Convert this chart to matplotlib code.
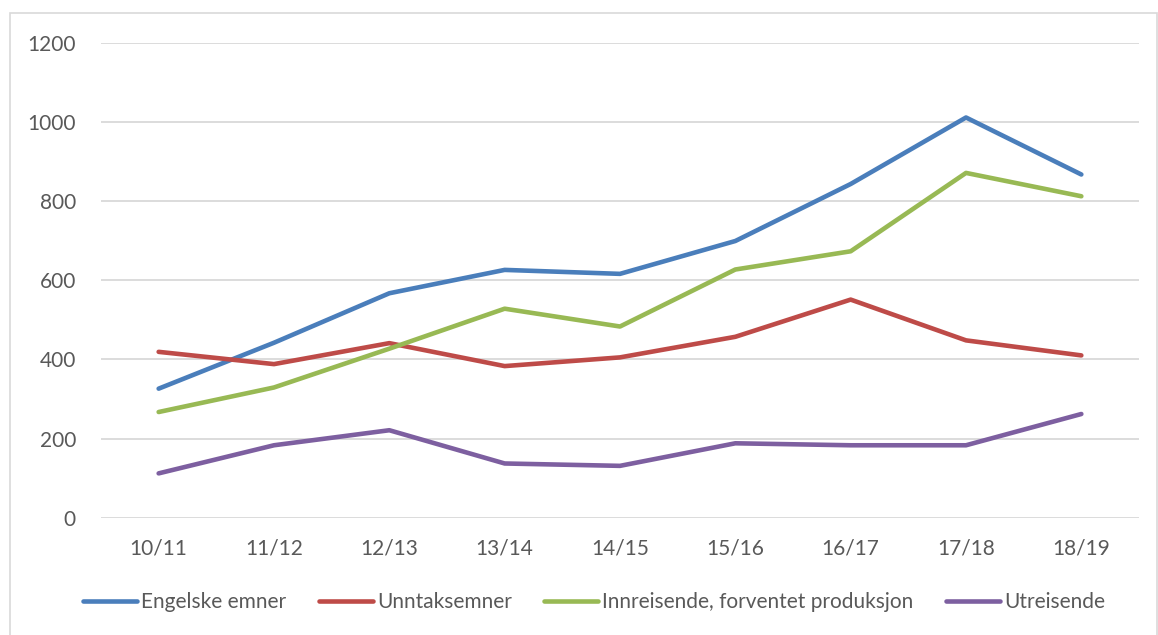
import numpy as np
import matplotlib
matplotlib.use('Agg')
import matplotlib.pyplot as plt
from matplotlib.patches import Rectangle

plt.rcParams['font.family'] = ['Lato', 'DejaVu Sans']

# Data
years = ['10/11', '11/12', '12/13', '13/14', '14/15', '15/16', '16/17', '17/18', '18/19']
engelske = [326, 442, 567, 626, 616, 699, 843, 1011, 867]
unntak = [419, 388, 441, 383, 405, 457, 551, 448, 410]
innreisende = [267, 329, 427, 528, 483, 627, 673, 871, 812]
utreisende = [112, 183, 221, 137, 131, 188, 183, 183, 262]

series = [
    ('Engelske emner', engelske, '#4A7EBB'),
    ('Unntaksemner', unntak, '#BE4B48'),
    ('Innreisende, forventet produksjon', innreisende, '#98B954'),
    ('Utreisende', utreisende, '#7D5FA0'),
]

fig = plt.figure(figsize=(11.58, 6.35), dpi=100)
ax = fig.add_axes([0.0872, 0.1847, 0.8964, 0.7481])

x = np.arange(len(years))
for name, vals, col in series:
    ax.plot(x, vals, color=col, lw=3.3, label=name, solid_capstyle='round', solid_joinstyle='round')

ax.set_xlim(-0.5, len(years) - 0.5)
ax.set_ylim(0, 1200)
ax.set_yticks(range(0, 1201, 200))
ax.set_xticks(x)
ax.set_xticklabels(years)
ax.grid(axis='y', color='#D9D9D9', lw=1.3)
ax.set_axisbelow(True)
for s in ax.spines.values():
    s.set_visible(False)
ax.tick_params(axis='both', length=0, labelsize=15, colors='#595959')
ax.tick_params(axis='y', pad=18)
ax.tick_params(axis='x', pad=15)

leg = fig.legend(loc='center', bbox_to_anchor=(0.513, 0.052), ncol=4, frameon=False,
                 fontsize=15, handlelength=2.6, handletextpad=0.2, columnspacing=1.55)
for t in leg.get_texts():
    t.set_color('#595959')

# outer chart frame
fig.patches.append(Rectangle((0.009, -0.01), 0.99, 0.99, transform=fig.transFigure,
                             fill=False, edgecolor='#D9D9D9', lw=1.2))

fig.savefig('out.png', dpi=100)
